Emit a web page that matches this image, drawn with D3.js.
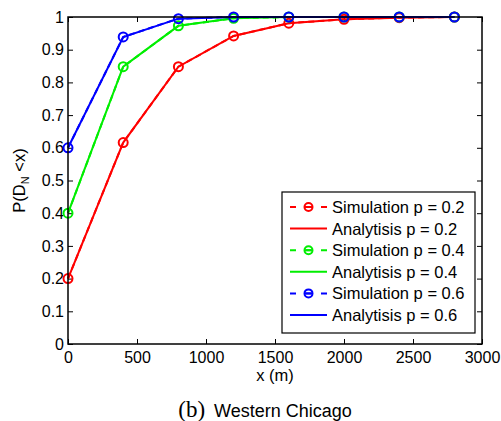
<!DOCTYPE html>
<html>
<head>
<meta charset="utf-8">
<script src="https://cdn.jsdelivr.net/npm/d3@7"></script>
<style>
  body { margin: 0; background: #fff; }
  text { font-family: "Liberation Sans", Arial, sans-serif; fill: #000; }
</style>
</head>
<body>
<div id="chart"></div>
<script>
// Data
const xValues = [0, 400, 800, 1200, 1600, 2000, 2400, 2800];
const simP02 = [0.2, 0.616, 0.848, 0.942, 0.981, 0.993, 0.998, 1.0];
const anaP02 = [0.2, 0.616, 0.848, 0.942, 0.981, 0.993, 0.998, 1.0];
const simP04 = [0.4, 0.848, 0.973, 0.996, 1.0, 1.0, 1.0, 1.0];
const anaP04 = [0.4, 0.848, 0.973, 0.996, 1.0, 1.0, 1.0, 1.0];
const simP06 = [0.6, 0.939, 0.995, 1.0, 1.0, 1.0, 1.0, 1.0];
const anaP06 = [0.6, 0.939, 0.995, 1.0, 1.0, 1.0, 1.0, 1.0];
const xTicks = [0, 500, 1000, 1500, 2000, 2500, 3000];
const yTicks = [0, 0.1, 0.2, 0.3, 0.4, 0.5, 0.6, 0.7, 0.8, 0.9, 1];

const series = [
    { label: "Simulation p = 0.2", values: simP02, color: "#ff0000", sim: true },
    { label: "Analytisis p = 0.2", values: anaP02, color: "#ff0000", sim: false },
    { label: "Simulation p = 0.4", values: simP04, color: "#00ee00", sim: true },
    { label: "Analytisis p = 0.4", values: anaP04, color: "#00ee00", sim: false },
    { label: "Simulation p = 0.6", values: simP06, color: "#0000ff", sim: true },
    { label: "Analytisis p = 0.6", values: anaP06, color: "#0000ff", sim: false }
];

const W = 501, H = 421;
const margin = {top: 17, right: 19, bottom: 77, left: 68};
const width = W - margin.left - margin.right;
const height = H - margin.top - margin.bottom;

const root = d3.select("#chart").append("svg")
    .attr("width", W)
    .attr("height", H);

const svg = root.append("g")
    .attr("transform", `translate(${margin.left},${margin.top})`);

const x = d3.scaleLinear().domain([0, 3000]).range([0, width]);
const y = d3.scaleLinear().domain([0, 1]).range([height, 0]);

// Axes with inward ticks, mirrored on top and right
const tickLen = 5;
svg.append("g")
    .attr("transform", `translate(0,${height})`)
    .call(d3.axisBottom(x).tickValues(xTicks).tickSizeInner(-tickLen).tickSizeOuter(0).tickPadding(8).tickFormat(d3.format("d")))
    .call(g => g.select(".domain").remove())
    .call(g => g.selectAll("text").style("font-size", "16px").style("font-family", "'Liberation Sans', Arial, sans-serif"));

svg.append("g")
    .call(d3.axisTop(x).tickValues(xTicks).tickSizeInner(-tickLen).tickSizeOuter(0).tickFormat(""))
    .call(g => g.select(".domain").remove());

svg.append("g")
    .call(d3.axisLeft(y).tickValues(yTicks).tickSizeInner(-tickLen).tickSizeOuter(0).tickPadding(4).tickFormat(d3.format("~g")))
    .call(g => g.select(".domain").remove())
    .call(g => g.selectAll("text").style("font-size", "16px").style("font-family", "'Liberation Sans', Arial, sans-serif"));

svg.append("g")
    .attr("transform", `translate(${width},0)`)
    .call(d3.axisRight(y).tickValues(yTicks).tickSizeInner(-tickLen).tickSizeOuter(0).tickFormat(""))
    .call(g => g.select(".domain").remove());

svg.selectAll(".tick line").attr("stroke", "#000").attr("stroke-width", 1);

// Lines
const line = d3.line()
    .x((d, i) => x(xValues[i]))
    .y(d => y(d));

series.forEach(s => {
    svg.append("path")
        .datum(s.values)
        .attr("fill", "none")
        .attr("stroke", s.color)
        .attr("stroke-width", 2)
        .attr("stroke-dasharray", s.sim ? "6,4" : null)
        .attr("d", line);
    if (s.sim) {
        svg.selectAll(null)
            .data(s.values)
            .join("circle")
            .attr("cx", (d, i) => x(xValues[i]))
            .attr("cy", d => y(d))
            .attr("r", 4.5)
            .attr("fill", "none")
            .attr("stroke", s.color)
            .attr("stroke-width", 2);
    }
});

// Frame
svg.append("rect")
    .attr("width", width)
    .attr("height", height)
    .attr("fill", "none")
    .attr("stroke", "#000")
    .attr("stroke-width", 1.5);

// Legend
const legend = svg.append("g").attr("transform", `translate(${282 - margin.left},${192 - margin.top})`);
legend.append("rect")
    .attr("width", 193)
    .attr("height", 141)
    .attr("fill", "#fff")
    .attr("stroke", "#000")
    .attr("stroke-width", 1.2);

const rowH = 21.6;
series.forEach((s, i) => {
    const cy = 15 + i * rowH;
    if (s.sim) {
        legend.append("line")
            .attr("x1", 8).attr("x2", 45).attr("y1", cy).attr("y2", cy)
            .attr("stroke", s.color).attr("stroke-width", 2)
            .attr("stroke-dasharray", "6,9.5");
        legend.append("circle")
            .attr("cx", 26.5).attr("cy", cy).attr("r", 4)
            .attr("fill", "none").attr("stroke", s.color).attr("stroke-width", 2);
        legend.append("line")
            .attr("x1", 22.5).attr("x2", 30.5).attr("y1", cy).attr("y2", cy)
            .attr("stroke", s.color).attr("stroke-width", 2);
    } else {
        legend.append("line")
            .attr("x1", 8).attr("x2", 45).attr("y1", cy).attr("y2", cy)
            .attr("stroke", s.color).attr("stroke-width", 2);
    }
    legend.append("text")
        .attr("x", 50)
        .attr("y", cy)
        .attr("dy", "0.36em")
        .style("font-size", "16.5px")
        .text(s.label);
});

// Axis labels
root.append("text")
    .attr("x", margin.left + width / 2)
    .attr("y", 381)
    .attr("text-anchor", "middle")
    .style("font-size", "16.5px")
    .text("x (m)");

const yl = root.append("text")
    .attr("transform", `translate(25,${margin.top + height / 2}) rotate(-90)`)
    .attr("text-anchor", "middle")
    .style("font-size", "16.5px");
yl.append("tspan").text("P(D");
yl.append("tspan").attr("dy", 4).style("font-size", "11px").text("N");
yl.append("tspan").attr("dy", -4).text(" <x)");

// Caption
const cap = root.append("text")
    .attr("x", 265)
    .attr("y", 417)
    .attr("text-anchor", "middle");
cap.append("tspan")
    .style("font-family", "'Liberation Serif', 'Times New Roman', serif")
    .style("font-size", "23px")
    .text("(b)");
cap.append("tspan")
    .style("font-size", "18px")
    .text("\u2002Western Chicago");
</script>
</body>
</html>
